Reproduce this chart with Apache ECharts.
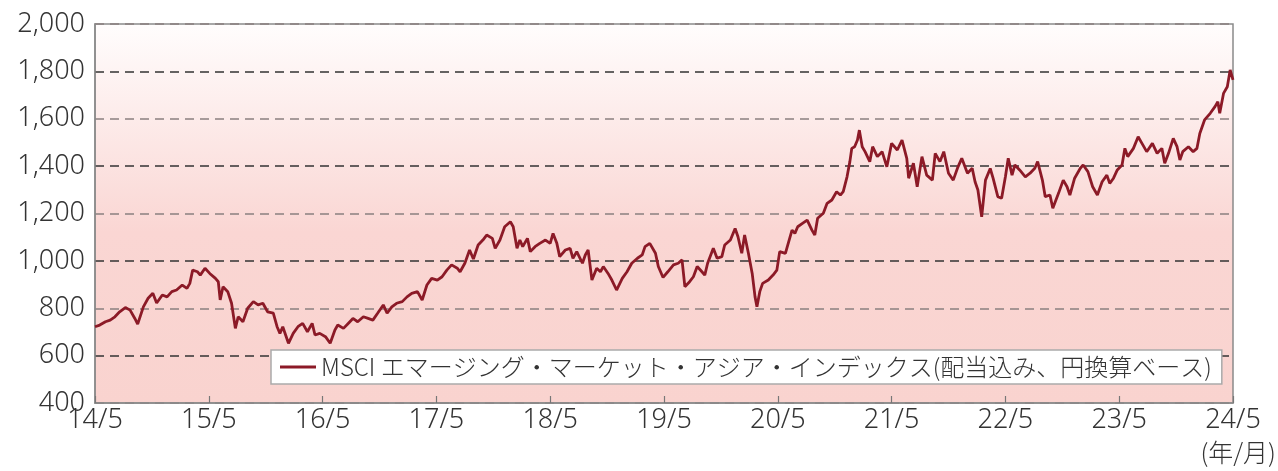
<!DOCTYPE html>
<html>
<head>
<meta charset="utf-8">
<script src="https://cdn.jsdelivr.net/npm/echarts@6/dist/echarts.min.js"></script>
<style>
html,body{margin:0;padding:0;background:#fff;}
#chart{width:1278px;height:471px;}
</style>
</head>
<body>
<div id="chart"></div>
<script>
// Months elapsed since 2014/5
const months = [0,0.5,1.1,1.6,2.1,2.6,3.2,3.7,4.2,4.5,5.1,5.6,6.1,6.5,7.1,7.6,8.1,8.6,9.2,9.7,10.0,10.3,10.8,11.1,11.6,12.1,12.7,13.0,13.2,13.5,14.0,14.4,14.8,15.1,15.6,16.1,16.7,17.2,17.7,18.2,18.8,19.2,19.5,19.8,20.4,20.9,21.4,21.9,22.4,22.9,23.2,23.7,24.3,24.8,25.3,25.6,26.2,26.7,27.2,27.7,28.3,28.8,29.3,29.8,30.4,30.8,31.3,31.8,32.4,32.9,33.4,34.0,34.5,35.0,35.5,36.1,36.6,37.1,37.6,38.2,38.5,39.0,39.5,39.9,40.4,40.9,41.3,41.9,42.2,42.7,43.2,43.8,44.1,44.5,44.8,45.1,45.6,45.9,46.4,46.9,47.5,48.0,48.3,48.7,49.0,49.6,50.1,50.4,50.8,51.4,51.7,52.0,52.4,52.9,53.3,53.6,54.1,54.5,55.0,55.6,56.1,56.6,57.2,57.7,58.0,58.5,59.1,59.4,59.9,60.4,61.0,61.5,61.9,62.2,62.7,63.1,63.5,64.0,64.3,64.6,65.2,65.6,66.1,66.4,67.0,67.5,67.8,68.2,68.5,68.9,69.3,69.6,69.8,70.1,70.4,71.0,71.5,71.9,72.2,72.8,73.1,73.5,73.8,74.1,74.6,75.1,75.6,75.9,76.2,76.8,77.2,77.7,78.2,78.6,78.9,79.3,79.6,79.8,80.1,80.4,80.6,80.9,81.2,81.7,82.0,82.5,83.0,83.5,84.0,84.6,85.1,85.6,85.8,86.3,86.7,87.2,87.7,88.3,88.6,89.1,89.5,90.0,90.5,91.0,91.4,92.0,92.5,92.8,93.1,93.5,93.9,94.4,94.7,95.2,95.6,96.0,96.3,96.7,97.0,97.5,98.1,98.6,99.1,99.4,99.9,100.2,100.7,101.0,101.6,102.1,102.5,102.8,103.3,103.9,104.2,104.7,105.2,105.7,106.2,106.7,107.0,107.4,107.8,108.3,108.6,108.9,109.5,110.0,110.4,110.9,111.5,112.0,112.5,112.8,113.2,113.7,114.1,114.4,114.7,115.3,115.8,116.2,116.5,117.0,117.6,118.1,118.4,118.6,119.0,119.4,119.7,119.9,120.0];
const indexValues = [722,729,743,750,764,785,803,792,757,733,806,842,863,822,856,848,870,877,898,884,905,961,954,940,969,947,926,912,835,891,870,821,715,764,743,800,828,814,821,785,779,722,694,722,652,694,722,736,701,736,687,694,680,652,708,729,715,736,757,743,764,757,750,779,814,779,806,821,828,848,863,870,835,898,926,919,933,961,983,969,954,990,1046,1008,1067,1088,1109,1095,1053,1088,1144,1165,1144,1053,1088,1060,1095,1039,1060,1074,1088,1074,1116,1074,1018,1046,1053,1011,1039,990,1025,1046,919,969,954,976,947,919,877,926,954,990,1011,1025,1060,1074,1032,976,930,954,983,990,1004,891,912,933,976,954,940,990,1053,1011,1018,1067,1088,1137,1102,1032,1109,1032,947,848,806,870,905,919,940,961,1039,1032,1074,1130,1116,1144,1158,1172,1130,1109,1180,1201,1243,1257,1292,1278,1292,1355,1419,1475,1482,1510,1552,1482,1461,1419,1482,1440,1461,1397,1496,1468,1510,1433,1349,1412,1313,1440,1362,1341,1454,1419,1461,1370,1341,1397,1433,1370,1391,1334,1299,1186,1341,1390,1349,1271,1264,1355,1433,1362,1405,1384,1355,1370,1391,1419,1341,1271,1278,1222,1285,1341,1313,1278,1349,1391,1405,1377,1313,1278,1334,1362,1327,1349,1384,1405,1475,1440,1475,1524,1496,1461,1496,1454,1475,1412,1454,1517,1482,1426,1461,1482,1461,1475,1538,1595,1623,1651,1672,1623,1707,1735,1806,1813,1764];
const xTickLabels = ['14/5','15/5','16/5','17/5','18/5','19/5','20/5','21/5','22/5','23/5','24/5'];
const seriesName = 'MSCI エマージング・マーケット・アジア・インデックス(配当込み、円換算ベース)';
const unitLabel = '(年/月)';

const data = months.map((m, i) => [m, indexValues[i]]);
const FONT = '"Noto Sans CJK JP", "Noto Sans", sans-serif';
const NUMFONT = '"Noto Sans", "Noto Sans CJK JP", sans-serif';

const chart = echarts.init(document.getElementById('chart'), null, {renderer: 'canvas'});
chart.setOption({
  animation: false,
  grid: {
    left: 95, right: 45, top: 24, bottom: 68,
    show: true,
    borderColor: '#8a8a8a',
    borderWidth: 1.5,
    backgroundColor: {
      type: 'linear', x: 0, y: 0, x2: 0, y2: 1,
      colorStops: [
        {offset: 0, color: '#fffdfd'},
        {offset: 0.55, color: '#fad6d3'},
        {offset: 1, color: '#f9d3cf'}
      ]
    }
  },
  legend: {
    left: 271, top: 350,
    padding: [5, 10, 5, 9],
    backgroundColor: '#ffffff',
    borderColor: '#aaaaaa',
    borderWidth: 1.5,
    borderRadius: 0,
    itemWidth: 36, itemHeight: 3, itemGap: 10,
    textStyle: {fontSize: 24, color: '#333', fontFamily: FONT, fontWeight: 300},
    data: [{name: seriesName, icon: 'rect'}]
  },
  xAxis: {
    type: 'value', min: 0, max: 120, interval: 12,
    axisLine: {show: true, lineStyle: {color: '#8a8a8a', width: 1.5}},
    axisTick: {show: true, inside: true, length: 7, lineStyle: {color: '#777', width: 1.2}},
    splitLine: {show: false},
    axisLabel: {
      fontSize: 27, color: '#333', fontFamily: NUMFONT, fontWeight: 300, margin: 4,
      formatter: v => xTickLabels[Math.round(v / 12)]
    }
  },
  yAxis: {
    type: 'value', min: 400, max: 2000, interval: 200,
    axisLine: {show: true, lineStyle: {color: '#8a8a8a', width: 1.5}},
    axisTick: {show: false},
    splitLine: {show: true, lineStyle: {type: [9, 6], color: ['#8a8080', '#333333'], width: 1.5}},
    axisLabel: {
      fontSize: 27, color: '#333', fontFamily: NUMFONT, fontWeight: 300, margin: 10,
      formatter: v => v.toLocaleString('en-US')
    }
  },
  graphic: [{
    type: 'text', right: 2, top: 440,
    style: {text: unitLabel, fill: '#333', font: '300 25px ' + FONT}
  }],
  series: [{
    name: seriesName,
    type: 'line',
    data: data,
    symbol: 'none',
    lineStyle: {color: '#8c1a27', width: 2.8},
    itemStyle: {color: '#8c1a27'}
  }]
});
</script>
</body>
</html>
